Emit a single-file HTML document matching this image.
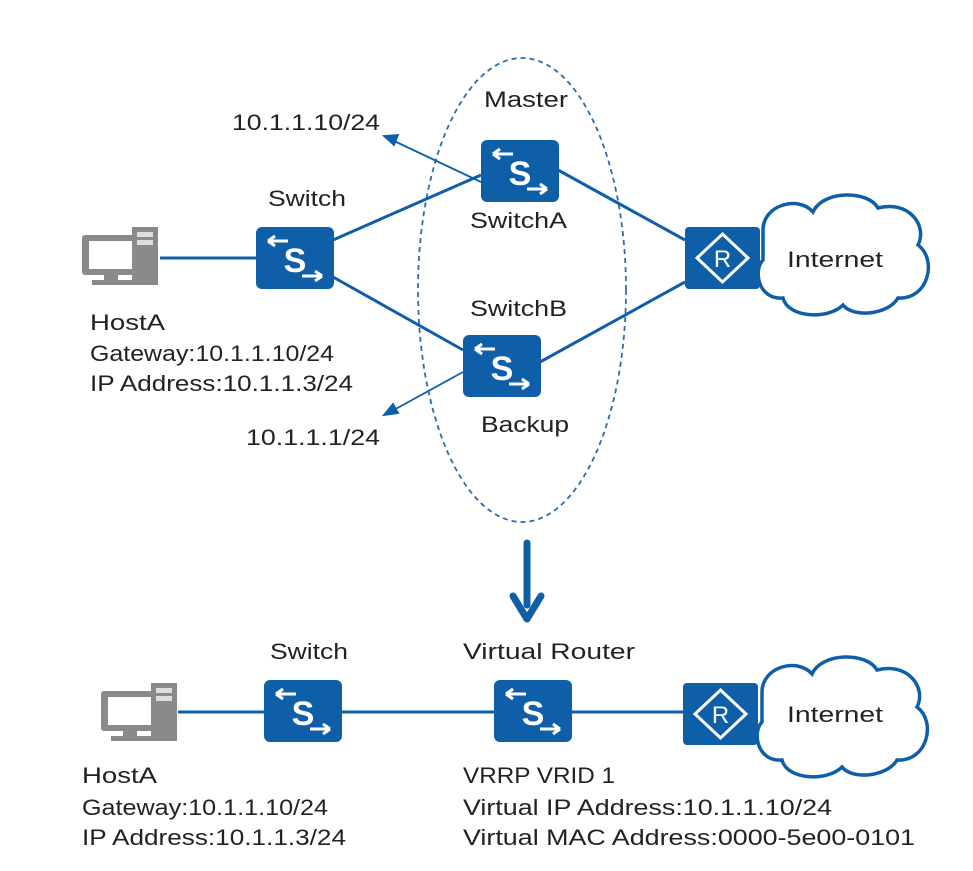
<!DOCTYPE html>
<html><head><meta charset="utf-8"><style>
html,body{margin:0;padding:0;background:#fff;}
svg{display:block;}
text{font-family:"Liberation Sans",sans-serif;font-size:22px;fill:#222;}
</style></head><body>
<svg width="973" height="871" viewBox="0 0 973 871" xmlns="http://www.w3.org/2000/svg">
<defs>
<g id="sw">
<rect x="0" y="0" width="78" height="62" rx="6" fill="#0e5fa8"/>
<path d="M12 14 H32 M12 14 l7 -5 M12 14 l7 5" stroke="#fff" stroke-width="3" fill="none"/>
<path d="M46 49 H66 M66 49 l-7 -5 M66 49 l-7 5" stroke="#fff" stroke-width="3" fill="none"/>
<text x="39" y="45" text-anchor="middle" style="font-size:34px;font-weight:bold;fill:#fff">S</text>
</g>
<g id="rt">
<rect x="0" y="0" width="75" height="62" rx="4" fill="#0e5fa8"/>
<path d="M37.5 7 L63 31 L37.5 55 L12 31 Z" stroke="#fff" stroke-width="3" fill="none"/>
<text x="37.5" y="40" text-anchor="middle" style="font-size:24px;fill:#fff">R</text>
</g>
<g id="cloud">
<path d="M5 40 C5 15 40 5 55 22 C65 0 110 0 120 18 C150 10 170 35 160 55 C180 70 170 110 140 108 C130 125 95 128 85 115 C70 130 30 128 25 108 C0 110 -5 80 5 70 Z" fill="#fff" stroke="#0e5fa8" stroke-width="3.5"/>
</g>
<g id="pc">
<rect x="2" y="8" width="58" height="40" rx="3" fill="#8a8a8a"/>
<rect x="9" y="14" width="44" height="28" fill="#fff"/>
<rect x="24" y="48" width="14" height="6" fill="#8a8a8a"/>
<rect x="12" y="53" width="40" height="5" fill="#8a8a8a"/>
<rect x="52" y="0" width="26" height="58" fill="#8a8a8a"/>
<rect x="57" y="5" width="16" height="5" fill="#ddd"/>
<rect x="57" y="13" width="16" height="5" fill="#ddd"/>
</g>
</defs>

<ellipse cx="522" cy="290" rx="104" ry="232" fill="none" stroke="#2a6cae" stroke-width="1.8" stroke-dasharray="5,4"/>

<g stroke="#0e5fa8" stroke-width="3" fill="none">
<line x1="160" y1="258" x2="257" y2="258"/>
<line x1="333" y1="240" x2="481" y2="175"/>
<line x1="333" y1="277" x2="463" y2="350"/>
<line x1="558" y1="170" x2="685" y2="240"/>
<line x1="540" y1="362" x2="685" y2="282"/>
<line x1="178" y1="712" x2="264" y2="712"/>
<line x1="342" y1="712" x2="494" y2="712"/>
<line x1="572" y1="712" x2="684" y2="712"/>
</g>
<g stroke="#0e5fa8" stroke-width="1.8" fill="#0e5fa8">
<line x1="481" y1="182" x2="392" y2="140"/>
<path d="M384 136 L398 135 L394 145 Z"/>
<line x1="463" y1="372" x2="392" y2="411"/>
<path d="M384 415 L393 404 L398 413 Z"/>
</g>
<line x1="527" y1="543" x2="527" y2="605" stroke="#0e5fa8" stroke-width="7" stroke-linecap="round"/>
<path d="M513 596 L527 619 L541 596" stroke="#0e5fa8" stroke-width="7" fill="none" stroke-linecap="round" stroke-linejoin="round"/>

<use href="#cloud" x="758" y="190"/>
<use href="#cloud" x="757" y="652"/>
<use href="#pc" x="80" y="227"/>
<use href="#pc" x="99" y="683"/>
<use href="#sw" x="256" y="227"/>
<use href="#sw" x="481" y="140"/>
<use href="#sw" x="463" y="335"/>
<use href="#rt" x="685" y="227"/>
<use href="#sw" x="264" y="680"/>
<use href="#sw" x="494" y="680"/>
<use href="#rt" x="683" y="683"/>

<text x="484" y="107" textLength="84" lengthAdjust="spacingAndGlyphs">Master</text>
<text x="232" y="130" textLength="148" lengthAdjust="spacingAndGlyphs">10.1.1.10/24</text>
<text x="268" y="206" textLength="78" lengthAdjust="spacingAndGlyphs">Switch</text>
<text x="470" y="228" textLength="97" lengthAdjust="spacingAndGlyphs">SwitchA</text>
<text x="787" y="267" textLength="96" lengthAdjust="spacingAndGlyphs">Internet</text>
<text x="470" y="316" textLength="97" lengthAdjust="spacingAndGlyphs">SwitchB</text>
<text x="90" y="330" textLength="75" lengthAdjust="spacingAndGlyphs">HostA</text>
<text x="90" y="361" textLength="244" lengthAdjust="spacingAndGlyphs">Gateway:10.1.1.10/24</text>
<text x="90" y="391" textLength="263" lengthAdjust="spacingAndGlyphs">IP Address:10.1.1.3/24</text>
<text x="481" y="432" textLength="88" lengthAdjust="spacingAndGlyphs">Backup</text>
<text x="246" y="445" textLength="134" lengthAdjust="spacingAndGlyphs">10.1.1.1/24</text>

<text x="270" y="659" textLength="78" lengthAdjust="spacingAndGlyphs">Switch</text>
<text x="463" y="659" textLength="172" lengthAdjust="spacingAndGlyphs">Virtual Router</text>
<text x="787" y="722" textLength="96" lengthAdjust="spacingAndGlyphs">Internet</text>
<text x="82" y="783" textLength="75" lengthAdjust="spacingAndGlyphs">HostA</text>
<text x="82" y="815" textLength="246" lengthAdjust="spacingAndGlyphs">Gateway:10.1.1.10/24</text>
<text x="82" y="845" textLength="264" lengthAdjust="spacingAndGlyphs">IP Address:10.1.1.3/24</text>
<text x="463" y="783" textLength="152" lengthAdjust="spacingAndGlyphs">VRRP VRID 1</text>
<text x="463" y="815" textLength="369" lengthAdjust="spacingAndGlyphs">Virtual IP Address:10.1.1.10/24</text>
<text x="463" y="845" textLength="452" lengthAdjust="spacingAndGlyphs">Virtual MAC Address:0000-5e00-0101</text>
</svg>
</body></html>
